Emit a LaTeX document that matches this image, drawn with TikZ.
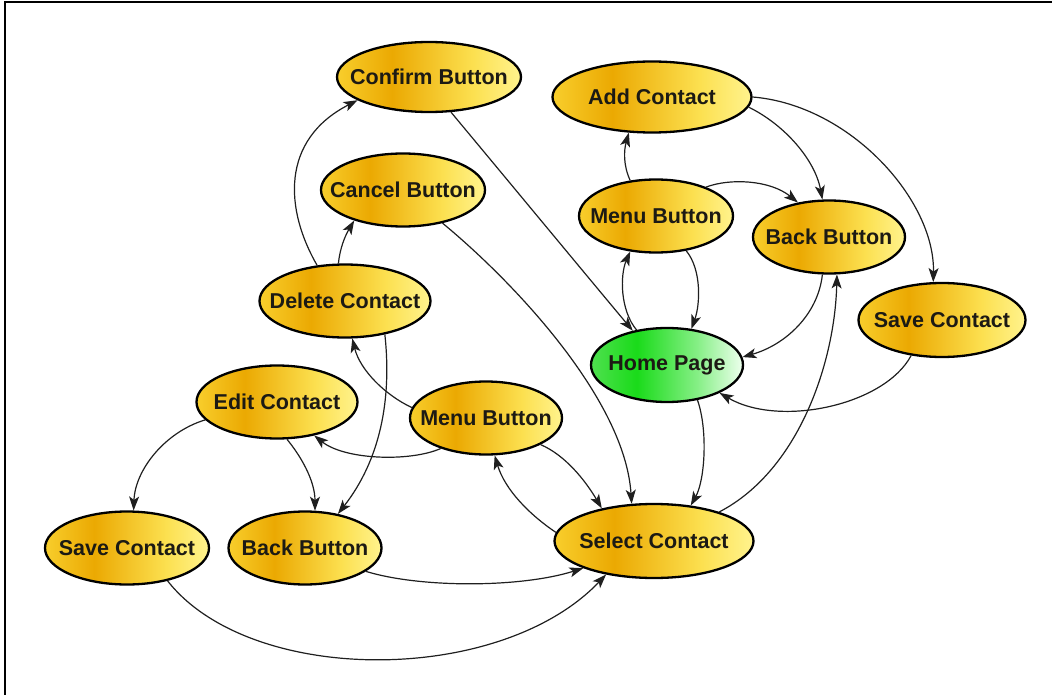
\documentclass[tikz,border=0pt]{standalone}
\usepackage{fontspec}
\setmainfont{Liberation Sans}
\usetikzlibrary{arrows.meta,shapes.geometric}

% palette
\definecolor{ylA}{HTML}{F8CE2C}
\definecolor{ylB}{HTML}{EBA902}
\definecolor{ylC}{HTML}{FCE050}
\definecolor{ylD}{HTML}{FFF38E}
\definecolor{grA}{HTML}{4FE04F}
\definecolor{grB}{HTML}{1ADB1A}
\definecolor{grC}{HTML}{86EF86}
\definecolor{grD}{HTML}{EEFFEE}
\definecolor{txt}{HTML}{1C1A14}
\definecolor{lk}{HTML}{1F1F1F}

% left-to-right fills; 25bp..75bp spans the shaded shape
\pgfdeclarehorizontalshading{goldfill}{100bp}{color(0bp)=(ylA); color(25bp)=(ylA); color(40bp)=(ylB); color(62bp)=(ylC); color(75bp)=(ylD); color(100bp)=(ylD)}
\pgfdeclarehorizontalshading{greenfill}{100bp}{color(0bp)=(grA); color(25bp)=(grA); color(40bp)=(grB); color(60bp)=(grC); color(75bp)=(grD); color(100bp)=(grD)}

\begin{document}
\begin{tikzpicture}[x=1pt,y=-1pt,
  nodetext/.style={font=\fontsize{21.5}{24}\selectfont\bfseries, text=txt, inner sep=0pt},
  state/.style={ellipse, draw=black, line width=2.3pt, inner sep=0pt, shade, shading=goldfill,
                label={[nodetext]center:#1}},
  homestate/.style={state=#1, shading=greenfill},
  link/.style={draw=lk, line width=1.2pt, -{Stealth[length=14pt,width=10pt,inset=3.5pt]}}]

\useasboundingbox (0,0) rectangle (1052,695);

% frame
\draw[line width=2pt] (5,695) -- (5,2.5) -- (1052,2.5);

% screens
\node[state=Confirm Button, minimum width=184pt, minimum height=70pt] (conf) at (429,77) {};
\node[state=Add Contact,    minimum width=199pt, minimum height=71pt] (add) at (652,97) {};
\node[state=Cancel Button,  minimum width=164pt, minimum height=73pt] (canc) at (403,190) {};
\node[state=Menu Button,    minimum width=154pt, minimum height=73pt] (menuT) at (656,216) {};
\node[state=Back Button,    minimum width=152pt, minimum height=73pt] (backT) at (829,237) {};
\node[state=Save Contact,   minimum width=167pt, minimum height=74pt] (saveR) at (942,320) {};
\node[state=Delete Contact, minimum width=171pt, minimum height=73pt] (del) at (345,301) {};
\node[homestate=Home Page,  minimum width=152pt, minimum height=74pt] (home) at (667,365) {};
\node[state=Edit Contact,   minimum width=161pt, minimum height=73pt] (edit) at (277,402) {};
\node[state=Menu Button,    minimum width=152pt, minimum height=73pt] (menuM) at (486,418) {};
\node[state=Save Contact,   minimum width=164pt, minimum height=73pt] (saveL) at (127,548) {};
\node[state=Back Button,    minimum width=153pt, minimum height=73pt] (backB) at (305,548) {};
\node[state=Select Contact, minimum width=199pt, minimum height=74pt] (sel) at (654,541) {};

% transitions
\draw[link] (del.128) .. controls (285,210) and (280,140) .. (conf.198);
\draw[link] (del.100) .. controls (340,248) and (345,236) .. (canc.212);
\draw[link] (conf.302) .. controls (510,183) and (572,258) .. (home.135);
\draw[link] (canc.320) .. controls (515,283) and (625,400) .. (sel.121);
\draw[link] (del.320) .. controls (392,400) and (380,460) .. (backB.46);
\draw[link] (menuM.172) .. controls (385,395) and (360,370) .. (del.281);
\draw[link] (menuM.214) .. controls (410,462) and (345,460) .. (edit.318);
\draw[link] (edit.285) .. controls (300,455) and (315,480) .. (backB.75);
\draw[link] (edit.194) .. controls (165,432) and (135,470) .. (saveL.80);
\draw[link] (backB.339) .. controls (420,588) and (520,588) .. (sel.201);
\draw[link] (saveL.321) .. controls (250,686) and (500,686) .. (sel.215);
\draw[link] (sel.175) .. controls (530,515) and (505,490) .. (menuM.283);
\draw[link] (menuM.334) .. controls (565,455) and (585,480) .. (sel.148);
\draw[link] (home.311) .. controls (708,430) and (705,480) .. (sel.44);
\draw[link] (sel.24) .. controls (800,470) and (835,360) .. (backT.282);
\draw[link] (backT.260) .. controls (818,315) and (785,345) .. (home.6);
\draw[link] (saveR.229) .. controls (885,405) and (780,428) .. (home.332);
\draw[link] (home.131) .. controls (620,310) and (620,275) .. (menuT.234);
\draw[link] (menuT.311) .. controls (702,270) and (700,305) .. (home.56);
\draw[link] (menuT.126) .. controls (623,165) and (624,150) .. (add.237);
\draw[link] (menuT.30) .. controls (730,178) and (770,180) .. (backT.132);
\draw[link] (add.354) .. controls (785,125) and (815,160) .. (backT.100);
\draw[link] (add.0) .. controls (850,105) and (935,200) .. (saveR.103);
\end{tikzpicture}
\end{document}
